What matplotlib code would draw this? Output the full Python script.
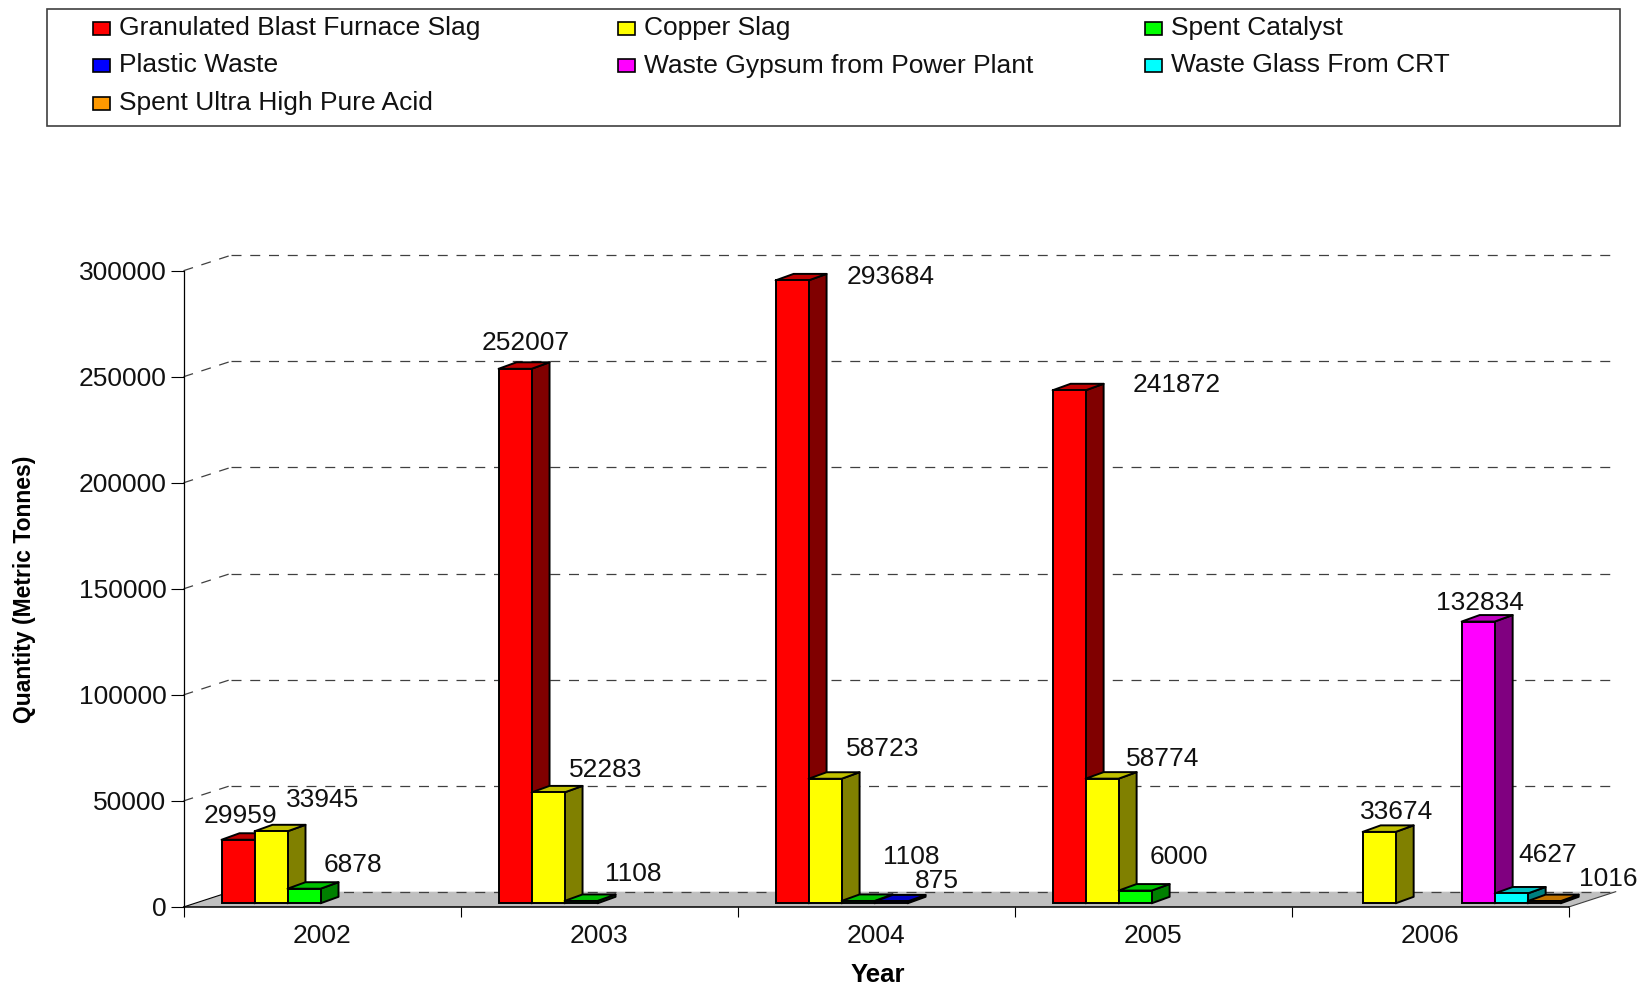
import matplotlib
matplotlib.use("Agg")
import matplotlib.pyplot as plt
from matplotlib.patches import Polygon, Rectangle

plt.rcParams['font.family'] = ['Liberation Sans', 'DejaVu Sans']

years = ['2002', '2003', '2004', '2005', '2006']
y_ticks = [0, 50000, 100000, 150000, 200000, 250000, 300000]

blast_slag = [29959, 252007, 293684, 241872, None]
copper_slag = [33945, 52283, 58723, 58774, 33674]
spent_catalyst = [6878, 1108, 1108, 6000, None]
plastic_waste = [None, None, 875, None, None]
waste_gypsum = [None, None, None, None, 132834]
waste_glass = [None, None, None, None, 4627]
spent_acid = [None, None, None, None, 1016]

series = [
    ('Granulated Blast Furnace Slag', blast_slag, '#FF0000', '#800000', '#C00000'),
    ('Copper Slag', copper_slag, '#FFFF00', '#808000', '#C0C000'),
    ('Spent Catalyst', spent_catalyst, '#00FF00', '#008000', '#00C000'),
    ('Plastic Waste', plastic_waste, '#0000FF', '#000080', '#0000C0'),
    ('Waste Gypsum from Power Plant', waste_gypsum, '#FF00FF', '#800080', '#C000C0'),
    ('Waste Glass From CRT', waste_glass, '#00FFFF', '#008080', '#00C0C0'),
    ('Spent Ultra High Pure Acid', spent_acid, '#FF9900', '#804D00', '#C07300'),
]

# where each value label sits relative to its bar, in pixels (series, year): (dx, dy)
label_offsets = {
    (0, 0): (2, 24), (1, 0): (52, 31), (2, 0): (49, 24),
    (0, 1): (11, 26), (1, 1): (58, 22), (2, 1): (52, 27),
    (0, 2): (99, 3), (1, 2): (58, 30), (2, 2): (53, 44), (3, 2): (46, 20),
    (0, 3): (108, 5), (1, 3): (61, 20), (2, 3): (44, 34),
    (1, 4): (17, 20), (4, 4): (2, 19), (5, 4): (37, 38), (6, 4): (64, 22),
}

W, H = 1651, 984
fig = plt.figure(figsize=(W / 100, H / 100), dpi=100)

# legend box is laid out in pixel coords on a full figure axes
lax = fig.add_axes([0, 0, 1, 1])
lax.set_xlim(0, W)
lax.set_ylim(H, 0)
lax.axis('off')
lax.add_patch(Rectangle((47, 8.5), 1573, 117, fc='white', ec='#404040', lw=1.2))
col_x = [93, 618, 1145]
row_y = [28, 65.5, 103]
order = [(0, 0), (1, 0), (2, 0), (0, 1), (1, 1), (2, 1), (0, 2)]
for s, (col, row) in zip(series, order):
    lax.add_patch(Rectangle((col_x[col], row_y[row] - 6.5), 17, 13, fc=s[2], ec='black', lw=1.2))
    lax.text(col_x[col] + 26, row_y[row], s[0], fontsize=19, va='center', ha='left', color='#111111')

left, right, bottom, top = 183.5, 1568.7, 907, 270.7
ax = fig.add_axes([left / W, 1 - bottom / H, (right - left) / W, (bottom - top) / H])
ax.patch.set_visible(False)
ax.set_xlim(0, 5)
ax.set_ylim(0, 300000)

# pixel to data scale
px_x = 5 / (right - left)
px_y = 300000 / (bottom - top)

depth_x, depth_y = 47 * px_x, 15.3 * px_y
ax.add_patch(Polygon([(0, 0), (5, 0), (5 + depth_x, depth_y), (depth_x, depth_y)],
                     fc='#C0C0C0', ec='none', zorder=1, clip_on=False))
ax.plot([5, 5 + depth_x], [0, depth_y], color='#404040', lw=0.8, zorder=1.2, clip_on=False)
ax.plot([0, depth_x], [0, depth_y], color='black', lw=0.8, zorder=1.2, clip_on=False)
for v in y_ticks:
    ax.plot([depth_x, 5 + depth_x], [v + depth_y, v + depth_y], color='#404040', lw=0.9,
            dashes=(8, 7), zorder=1.5, clip_on=False)
    if v > 0:
        ax.plot([0, depth_x], [v, v + depth_y], color='#404040', lw=0.9,
                dashes=(8, 7), zorder=1.5, clip_on=False)

bar_w = 33 * px_x
bar_start = 38 * px_x
base = 3.7 * px_y
bar_dx, bar_dy = 18 * px_x, 6.5 * px_y

for i, (name, values, front, side, cap) in enumerate(series):
    for j, v in enumerate(values):
        if v is None:
            continue
        x0 = j + bar_start + i * bar_w
        x1 = x0 + bar_w
        y0, y1 = base, base + v
        z = 3 + i
        ax.add_patch(Polygon([(x1, y0), (x1 + bar_dx, y0 + bar_dy), (x1 + bar_dx, y1 + bar_dy), (x1, y1)],
                             fc=side, ec='black', lw=1.4, zorder=z, clip_on=False, joinstyle='round'))
        ax.add_patch(Polygon([(x0, y1), (x1, y1), (x1 + bar_dx, y1 + bar_dy), (x0 + bar_dx, y1 + bar_dy)],
                             fc=cap, ec='black', lw=1.4, zorder=z, clip_on=False, joinstyle='round'))
        ax.bar(x0, v, bottom=base, width=bar_w, align='edge', color=front, edgecolor='black',
               linewidth=1.4, zorder=z + 0.5, clip_on=False)
        dx, dy = label_offsets[(i, j)]
        ax.annotate(str(v), xy=((x0 + x1) / 2, y1), xytext=(dx, dy), textcoords='offset pixels',
                    ha='center', va='center', fontsize=19, color='#111111', zorder=20,
                    annotation_clip=False)

for spine in ['top', 'right']:
    ax.spines[spine].set_visible(False)
ax.spines['left'].set_linewidth(0.9)
ax.spines['bottom'].set_linewidth(1.1)
ax.spines['left'].set_zorder(2)
ax.spines['bottom'].set_zorder(2)

ax.set_yticks(y_ticks)
ax.tick_params(axis='y', length=9.4, width=0.8, pad=3, labelsize=19, labelcolor='#111111')
ax.set_xticks(range(6))
ax.set_xticklabels([])
ax.tick_params(axis='x', which='major', length=7.5, width=0.8)
ax.set_xticks([j + 0.5 for j in range(5)], minor=True)
ax.set_xticklabels(years, minor=True, fontsize=19, color='#111111')
ax.tick_params(axis='x', which='minor', length=0, pad=12)

fig.text(878 / W, 1 - 975 / H, 'Year', fontsize=18.5, fontweight='bold', ha='center', va='center')
fig.text(25 / W, 1 - 589 / H, 'Quantity (Metric Tonnes)', fontsize=16.5, fontweight='bold',
         rotation=90, ha='center', va='center')

fig.savefig('out.png', dpi=100)
